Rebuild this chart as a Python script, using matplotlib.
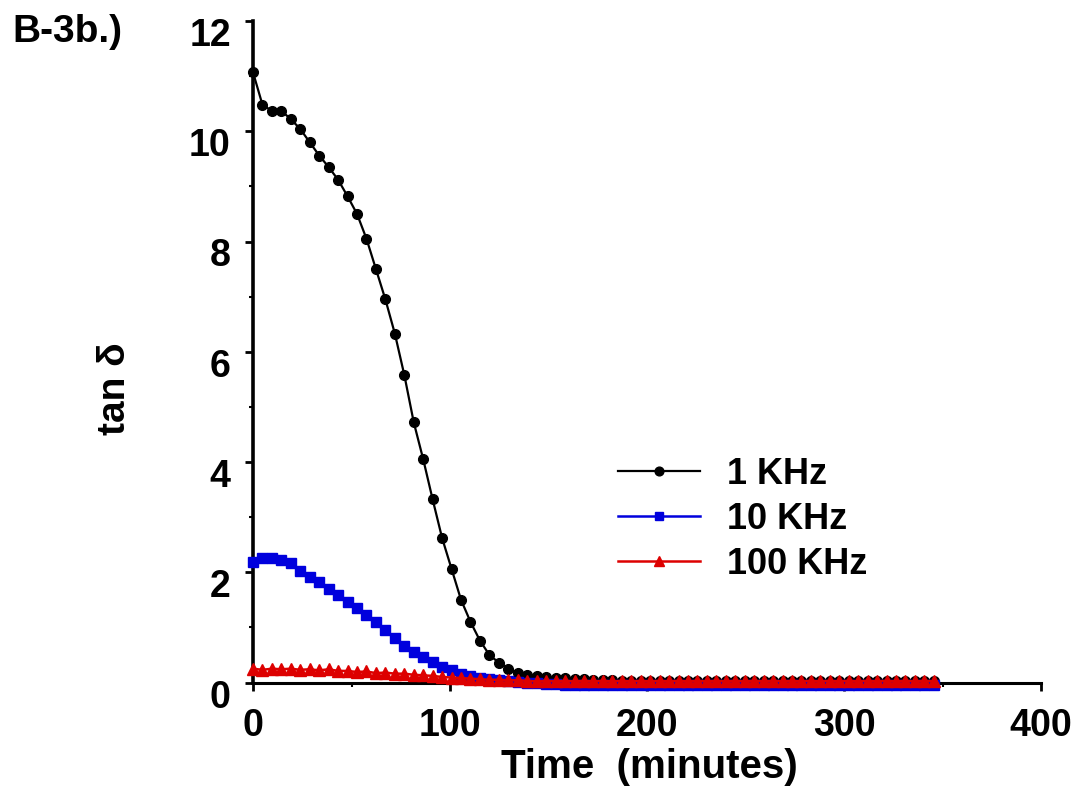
import matplotlib
matplotlib.use("Agg")
import matplotlib.pyplot as plt
from matplotlib.transforms import ScaledTranslation

plt.rcParams['font.family'] = ['Liberation Sans', 'DejaVu Sans']
plt.rcParams['font.weight'] = 'bold'

# time in minutes (same sampling for all three frequencies)
times = [0, 4.8, 9.6, 14.4, 19.2, 24.0, 28.8, 33.6, 38.4, 43.2,
         48.0, 52.8, 57.6, 62.4, 67.2, 72.0, 76.8, 81.6, 86.4, 91.2,
         96.0, 100.8, 105.6, 110.4, 115.2, 120.0, 124.8, 129.6, 134.4, 139.2,
         144.0, 148.8, 153.6, 158.4, 163.2, 168.0, 172.8, 177.6, 182.4, 187.2,
         192.0, 196.8, 201.6, 206.4, 211.2, 216.0, 220.8, 225.6, 230.4, 235.2,
         240.0, 244.8, 249.6, 254.4, 259.2, 264.0, 268.8, 273.6, 278.4, 283.2,
         288.0, 292.8, 297.6, 302.4, 307.2, 312.0, 316.8, 321.6, 326.4, 331.2,
         336.0, 340.8, 345.6]

tan_1khz = [11.07, 10.48, 10.37, 10.37, 10.22, 10.04, 9.80, 9.56, 9.35, 9.12,
            8.82, 8.50, 8.05, 7.50, 6.95, 6.33, 5.58, 4.72, 4.05, 3.32,
            2.62, 2.06, 1.50, 1.10, 0.76, 0.50, 0.36, 0.25, 0.18, 0.14,
            0.12, 0.10, 0.09, 0.08, 0.07, 0.06, 0.05, 0.04, 0.04, 0.03,
            0.03, 0.03, 0.03, 0.03, 0.02, 0.02, 0.02, 0.02, 0.02, 0.02,
            0.02, 0.02, 0.02, 0.02, 0.02, 0.02, 0.02, 0.02, 0.02, 0.02,
            0.02, 0.02, 0.02, 0.02, 0.02, 0.02, 0.02, 0.02, 0.02, 0.02,
            0.02, 0.02, 0.02]

tan_10khz = [2.18, 2.25, 2.25, 2.22, 2.16, 2.03, 1.92, 1.82, 1.69, 1.58,
             1.46, 1.35, 1.22, 1.10, 0.96, 0.80, 0.67, 0.55, 0.46, 0.37,
             0.29, 0.22, 0.16, 0.12, 0.09, 0.06, 0.04, 0.02, 0.01, 0.00,
             -0.01, -0.02, -0.03, -0.04, -0.04, -0.04, -0.04, -0.04, -0.04, -0.04,
             -0.04, -0.04, -0.04, -0.04, -0.04, -0.04, -0.04, -0.04, -0.04, -0.04,
             -0.04, -0.04, -0.04, -0.04, -0.04, -0.04, -0.04, -0.04, -0.04, -0.04,
             -0.04, -0.04, -0.04, -0.04, -0.04, -0.04, -0.04, -0.04, -0.04, -0.04,
             -0.04, -0.04, -0.04]

tan_100khz = [0.25, 0.23, 0.25, 0.24, 0.25, 0.23, 0.24, 0.22, 0.24, 0.21,
              0.21, 0.19, 0.20, 0.17, 0.18, 0.16, 0.16, 0.14, 0.13, 0.12,
              0.10, 0.09, 0.08, 0.07, 0.06, 0.05, 0.05, 0.04, 0.04, 0.03,
              0.02, 0.03, 0.02, 0.03, 0.02, 0.03, 0.02, 0.03, 0.02, 0.03,
              0.02, 0.03, 0.02, 0.03, 0.02, 0.03, 0.02, 0.03, 0.02, 0.03,
              0.02, 0.03, 0.02, 0.03, 0.02, 0.03, 0.02, 0.03, 0.02, 0.03,
              0.02, 0.03, 0.02, 0.03, 0.02, 0.03, 0.02, 0.03, 0.02, 0.03,
              0.02, 0.03, 0.02]

labels = ['1 KHz', '10 KHz', '100 KHz']

W, H = 1092, 807
fig = plt.figure(figsize=(W / 100, H / 100), dpi=100)
ax = fig.add_axes([253 / W, 1 - 682.5 / H, (1041 - 253) / W, (682.5 - 21) / H])

ax.plot(times, tan_1khz, '-o', color='black', lw=1.6, ms=7, clip_on=False, label=labels[0], zorder=3)
ax.plot(times, tan_10khz, '-s', color='#0000dd', lw=1.8, ms=6.5, clip_on=False, label=labels[1], zorder=4)
ax.plot(times, tan_100khz, '-^', color='#dd0000', lw=1.8, ms=8, clip_on=False, label=labels[2], zorder=5)

ax.set_xlim(0, 400)
ax.set_ylim(0, 12)
ax.set_xticks([0, 100, 200, 300, 400])
ax.set_xticks([50, 150, 250, 350], minor=True)
ax.set_yticks([0, 2, 4, 6, 8, 10, 12])
ax.set_yticks([1, 3, 5, 7, 9, 11], minor=True)

for s in ['top', 'right']:
    ax.spines[s].set_visible(False)
ax.spines['left'].set_linewidth(2.6)
ax.spines['bottom'].set_linewidth(2.2)

ax.tick_params(axis='both', which='major', direction='out', length=6, width=2, labelsize=27)
ax.tick_params(axis='both', which='minor', direction='out', length=3, width=1.5)
ax.tick_params(axis='x', which='major', pad=12)
ax.tick_params(axis='y', which='major', pad=10)

# y tick labels sit a bit below their ticks in the original
off = ScaledTranslation(0, -11 / 100, fig.dpi_scale_trans)
for lab in ax.get_yticklabels():
    lab.set_transform(lab.get_transform() + off)

fig.text(649 / W, 1 - 778 / H, 'Time  (minutes)', ha='center', va='baseline', fontsize=29, fontweight='bold')
fig.text(115 / W, 1 - 389 / H, 'tan δ', ha='center', va='center', rotation=90, fontsize=28, fontweight='bold')
fig.text(12 / W, 1 - 42 / H, 'B-3b.)', ha='left', va='baseline', fontsize=28, fontweight='bold')

leg = ax.legend(loc='upper left', bbox_to_anchor=(618 / W, 1 - 457 / H), bbox_transform=fig.transFigure,
                frameon=False, borderpad=0, borderaxespad=0, handlelength=2.27, handletextpad=0.75,
                labelspacing=0.27, fontsize=26, markerscale=0.9)

fig.savefig('out.png', dpi=100)
